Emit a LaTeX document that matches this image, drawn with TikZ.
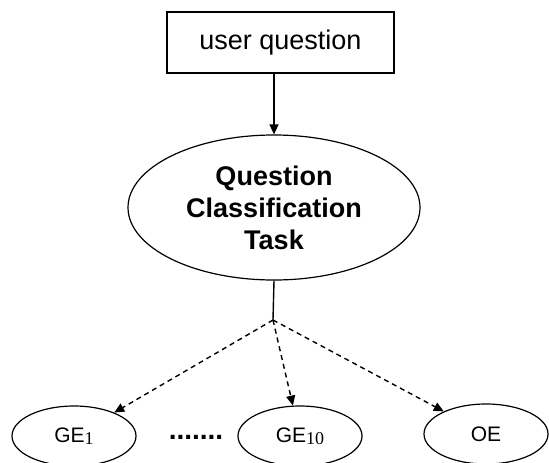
\documentclass[tikz,border=0pt]{standalone}
\usepackage{fontspec}
\setmainfont{Liberation Sans}
\newfontfamily\serifsub{Liberation Serif}
\usetikzlibrary{shapes.geometric,arrows.meta}
\begin{document}
\begin{tikzpicture}[x=1pt,y=-1pt,
  every node/.style={inner sep=0pt},
  conn/.style={line width=1.4pt,-{Triangle[length=10pt,width=9pt]}},
  dconn/.style={conn,dash pattern=on 5pt off 4pt},
  smallell/.style={draw,line width=1.2pt,ellipse,minimum width=124pt,minimum height=60pt,font=\fontsize{21}{24}\selectfont},
  sub/.style={}]
\useasboundingbox (0,0) rectangle (549,463);
\node[draw,line width=1.2pt,minimum width=227pt,minimum height=61pt,font=\fontsize{27}{30}\selectfont] (box) at (280.5,42.5) {user question};
\node[draw,line width=1.2pt,ellipse,minimum width=292pt,minimum height=145pt,align=center,font=\bfseries\fontsize{27}{32}\selectfont] (task) at (274,207.5) {Question\\Classification\\Task};
\coordinate (j) at (273,320);
\node[smallell] (ge1) at (74,436) {\raisebox{-3pt}{GE{\serifsub\fontsize{18}{20}\selectfont\raisebox{-2pt}{1}}}};
\node[smallell] (ge10) at (300,436) {\raisebox{-3pt}{GE{\serifsub\fontsize{18}{20}\selectfont\raisebox{-2pt}{10}}}};
\node[smallell] (oe) at (486,434) {OE};
\node[anchor=base,font=\bfseries\fontsize{28}{28}\selectfont] (dots) at (196,439) {.......};
\draw[conn] (task.north |- box.south) -- (task.north);
\draw[line width=1.4pt] (task.south) -- (j);
\draw[dconn] (j) -- (ge1);
\draw[dconn] (j) -- (ge10);
\draw[dconn] (j) -- (oe);
\end{tikzpicture}
\end{document}
